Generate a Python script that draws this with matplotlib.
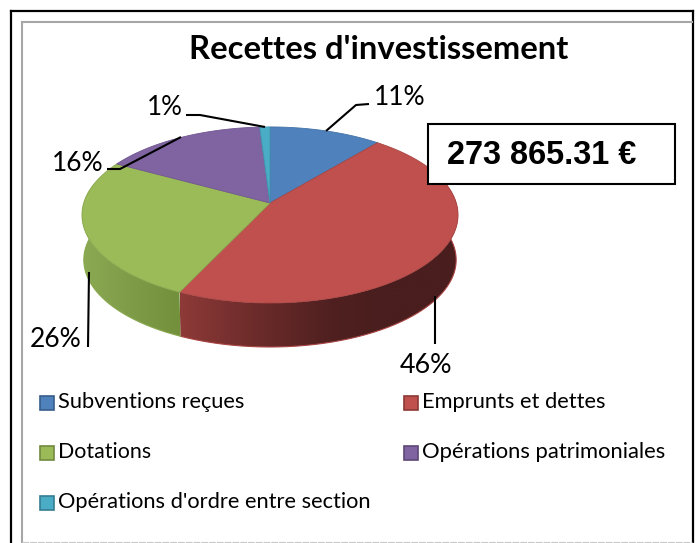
import numpy as np
import matplotlib
matplotlib.use("Agg")
import matplotlib.pyplot as plt
from matplotlib.patches import Rectangle, Polygon
from matplotlib.colors import to_rgb

title = "Recettes d'investissement"
categories = ["Subventions reçues", "Emprunts et dettes", "Dotations",
              "Opérations patrimoniales", "Opérations d'ordre entre section"]
values = [11, 46, 26, 16, 1]
pct_labels = ["11%", "46%", "26%", "16%", "1%"]
total_label = "273 865.31 €"
colors = ["#4F81BD", "#C0504D", "#9BBB59", "#8064A2", "#4BACC6"]
edge_colors = ["#4472A8", "#A84442", "#8AA84E", "#6F5690", "#3E97AE"]
legend_edges = ["#385D8A", "#8C3836", "#71893F", "#5C4776", "#357D91"]

W, H = 697, 543
fig = plt.figure(figsize=(W / 100, H / 100), dpi=100, facecolor="white")
ax = fig.add_axes([0, 0, 1, 1])
ax.axis("off")

# frames
ax.plot([10.5, 10.5], [H, 10.5], color="black", lw=1.6, zorder=1)
ax.plot([10.5, 692.5], [10.5, 10.5], color="black", lw=1.6, zorder=1)
ax.plot([692.5, 692.5], [10.5, H], color="black", lw=1.6, zorder=1)
ax.plot([21.5, 21.5], [H, 21.5], color="#A6A6A6", lw=1.5, zorder=1)
ax.plot([21.5, 692], [21.5, 21.5], color="#A6A6A6", lw=1.5, zorder=1)
ax.plot([22, 692], [542, 542], color="#C8C8C8", lw=0.8, ls=(0, (6, 1)), zorder=1)

# perspective pie
CX, CY, SX, SY, K, DEPTH = 270, 203, 186.3, 86.4, 0.136, 45


def project(theta, depth=0.0, shrink=1.0):
    c, s = np.cos(theta), np.sin(theta)
    d = 1 + K * s
    return CX + shrink * SX * c / d, CY - shrink * SY * s / d + depth


fractions = np.array(values, dtype=float) / sum(values)
edges = np.pi / 2 - 2 * np.pi * np.concatenate([[0], np.cumsum(fractions)])

side_stops = {
    1: ([178, 250, 330, 380, 460], ["#8E3A38", "#6E2C2B", "#502020", "#4A1E1E", "#4A1E1E"]),
    2: ([84, 130, 178], ["#8BA852", "#7F9C49", "#73903D"]),
}

for i in (1, 2):
    th = np.linspace(edges[i], edges[i + 1], 400)
    th = th[np.sin(th) < 0.25]
    tx, ty = project(th)
    bx, by = project(th, DEPTH, 0.99)
    outline = np.column_stack([np.r_[tx, bx[::-1]], np.r_[ty, by[::-1]]])
    stops_x, stops = side_stops[i]
    xs = np.linspace(outline[:, 0].min(), outline[:, 0].max(), 300)
    grad = np.stack([np.interp(xs, stops_x, [to_rgb(c)[k] for c in stops]) for k in range(3)], axis=-1)
    im = ax.imshow(grad[np.newaxis, :, :], extent=(xs[0], xs[-1], outline[:, 1].max(), outline[:, 1].min()),
                   aspect="auto", zorder=2, interpolation="bilinear")
    clip = Polygon(outline, closed=True, transform=ax.transData, facecolor="none", edgecolor="none")
    ax.add_patch(clip)
    im.set_clip_path(clip)
    ax.plot(bx, by, color=edge_colors[i], lw=0.8, zorder=2.5)

ax.set_xlim(0, W)
ax.set_ylim(H, 0)

for i, col in enumerate(colors):
    th = np.linspace(edges[i], edges[i + 1], 120)
    px, py = project(th)
    pts = np.column_stack([np.r_[CX, px], np.r_[CY, py]])
    ax.add_patch(Polygon(pts, closed=True, facecolor=col, edgecolor=edge_colors[i], lw=0.6, zorder=3))

# leader lines
leaders = [
    ([326, 356, 369], [131, 105, 104]),
    ([434.5, 434.5], [296, 344]),
    ([89, 88], [272, 347]),
    ([181, 120, 107], [137, 169, 169]),
    ([265, 200, 186], [127, 115, 115]),
]
for lx, ly in leaders:
    ax.plot(lx, ly, color="black", lw=1.5, zorder=4, solid_capstyle="butt")


def fit(s, x0, x1, baseline, **kw):
    t = ax.text(x0, baseline, s, ha="left", va="baseline", color="black", zorder=6, **kw)
    r = fig.canvas.get_renderer()
    w = t.get_window_extent(r).width
    t.set_fontsize(t.get_fontsize() * (x1 - x0) / w)
    return t


fit(title, 189, 569, 59, family="Lato", fontweight="bold", fontsize=24)

label_pos = [(374, 426, 105), (400, 453, 373), (30, 82, 347), (52, 104, 171), (147, 183, 115)]
for s, (x0, x1, b) in zip(pct_labels, label_pos):
    fit(s, x0, x1, b, family="Lato", fontsize=18)

# total box
ax.add_patch(Rectangle((427.5, 123.5), 247, 60, facecolor="white", edgecolor="black", lw=1.5, zorder=5))
fit(total_label, 447, 637, 164, family="Liberation Sans", fontweight="bold", fontsize=23)

# legend
legend_pos = [(39, 58, 245, 408), (403, 422, 607, 408), (39, 58, 151, 458),
              (403, 422, 666, 458), (39, 58, 372, 508)]
for i, (sx, x0, x1, b) in enumerate(legend_pos):
    ax.add_patch(Rectangle((sx + 0.5, b - 12), 14, 14, facecolor=colors[i],
                           edgecolor=legend_edges[i], lw=1.2, zorder=5))
    fit(categories[i], x0, x1, b, family="Lato", fontsize=15)

fig.savefig("out.png", dpi=100, facecolor="white")
